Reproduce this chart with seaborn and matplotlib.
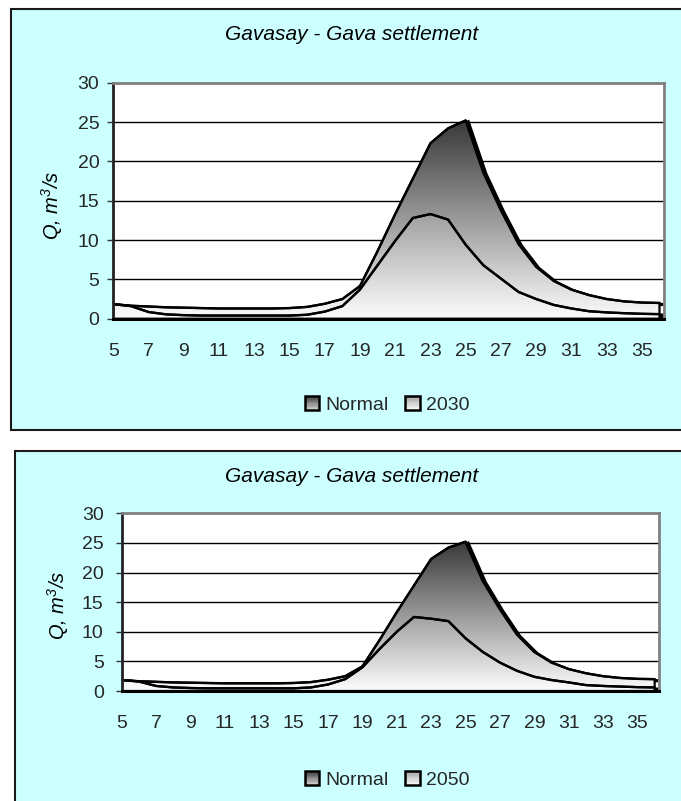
import numpy as np
import pandas as pd
import matplotlib
matplotlib.use("Agg")
import matplotlib.pyplot as plt
import matplotlib.transforms as mtransforms
import seaborn as sns
from matplotlib.patches import Rectangle
from matplotlib.legend_handler import HandlerBase
from matplotlib.colors import LinearSegmentedColormap, to_rgb

# ---- data -------------------------------------------------------------
periods = [5, 6, 7, 8, 9, 10, 11, 12, 13, 14, 15, 16, 17, 18, 19, 20,
           21, 22, 23, 24, 25, 26, 27, 28, 29, 30, 31, 32, 33, 34, 35, 36]

flow_normal = [1.85, 1.65, 1.55, 1.45, 1.4, 1.35, 1.3, 1.3, 1.3, 1.3, 1.35, 1.5,
               1.9, 2.5, 4.15, 8.6, 13.3, 17.8, 22.3, 24.2, 25.2, 18.6,
               13.8, 9.5, 6.6, 4.8, 3.7, 3.0, 2.5, 2.2, 2.05, 2.0]

flow_2030 = [1.85, 1.6, 0.85, 0.55, 0.45, 0.4, 0.4, 0.4, 0.4, 0.4, 0.4, 0.5,
             0.9, 1.6, 3.7, 6.8, 9.9, 12.8, 13.3, 12.6, 9.4, 6.8,
             5.1, 3.4, 2.5, 1.75, 1.3, 0.95, 0.8, 0.7, 0.62, 0.58]

flow_2050 = [1.85, 1.6, 0.85, 0.6, 0.5, 0.45, 0.45, 0.45, 0.45, 0.45, 0.45, 0.6,
             1.1, 2.0, 4.0, 7.1, 10.0, 12.5, 12.2, 11.8, 8.9, 6.6,
             4.8, 3.4, 2.4, 1.85, 1.45, 1.0, 0.85, 0.75, 0.65, 0.6]

y_ticks = [0, 5, 10, 15, 20, 25, 30]
x_ticklabels = [str(p) if p % 2 == 1 else "" for p in periods]

title_text = "Gavasay - Gava settlement"
ylabel_text = r"Q, m$^{3}$/s"

# ---- style ------------------------------------------------------------
sns.set_style("white")
plt.rcParams["font.family"] = ["Liberation Sans", "DejaVu Sans"]
plt.rcParams["mathtext.fontset"] = "custom"
plt.rcParams["mathtext.rm"] = "Liberation Sans:italic"
plt.rcParams["mathtext.it"] = "Liberation Sans:italic"

W, H = 681, 801
fig = plt.figure(figsize=(W / 100, H / 100), dpi=100)
fig.patch.set_facecolor("white")


def fx(px):
    return px / W


def fy(py):
    return 1 - py / H


NORMAL_TOP = "#383838"
FUTURE_TOP = "#a0a0a0"
TICK_FS = 14
TEXT_FS = 14


class GradientSwatch(HandlerBase):
    """Legend key drawn as a small square with a vertical grey gradient."""

    def __init__(self, top, bottom):
        super().__init__()
        self.top = np.array(to_rgb(top))
        self.bottom = np.array(to_rgb(bottom))

    def create_artists(self, legend, orig_handle, xdescent, ydescent,
                       width, height, fontsize, trans):
        side = min(width, height)
        x0 = -xdescent + (width - side) / 2
        y0 = -ydescent + (height - side) / 2
        n = 12
        arts = []
        for i in range(n):
            t = (i + 0.5) / n
            c = self.bottom + (self.top - self.bottom) * t
            arts.append(Rectangle((x0, y0 + side * i / n), side, side / n,
                                  facecolor=c, edgecolor="none",
                                  transform=trans))
        arts.append(Rectangle((x0, y0), side, side, facecolor="none",
                              edgecolor="black", lw=1.8, transform=trans))
        return arts


def gradient_area(ax, x, y, top_color, zorder):
    poly = ax.fill_between(x, 0, y, facecolor="none", edgecolor="black",
                           lw=1.6, zorder=zorder + 0.2)
    cmap = LinearSegmentedColormap.from_list("grad", ["#fdfdfd", top_color])
    grad = np.linspace(0, 1, 256).reshape(-1, 1)
    im = ax.imshow(grad, extent=[x[0], x[-1], 0, max(y)], origin="lower",
                   aspect="auto", cmap=cmap, zorder=zorder,
                   interpolation="bilinear")
    im.set_clip_path(poly.get_paths()[0], transform=ax.transData)
    return poly


panels = [
    dict(box=(11, 9.3, 700, 429.5), axes=(113.3, 82.7, 664.0, 318.7),
         xmax=36.255, title_y=35, legend_y=405, ylabel_xy=(52, 205),
         ypad=6.0, series="2030", values=flow_2030),
    dict(box=(15, 450.7, 700, 830), axes=(121.7, 513.3, 659.3, 691.0),
         xmax=36.27, title_y=476, legend_y=780, ylabel_xy=(58, 605),
         ypad=9.0, series="2050", values=flow_2050),
]

for p in panels:
    bx0, by0, bx1, by1 = p["box"]
    fig.add_artist(Rectangle((fx(bx0), fy(by1)), fx(bx1) - fx(bx0),
                             fy(by0) - fy(by1), transform=fig.transFigure,
                             facecolor="#CCFFFF", edgecolor="#1a1a1a",
                             lw=1.5, zorder=0))

    l, t, r, b = p["axes"]
    ax = fig.add_axes([fx(l), fy(b), fx(r) - fx(l), fy(t) - fy(b)])
    ax.set_facecolor("white")

    x = np.array(periods, dtype=float)
    yn = np.array(flow_normal)
    yf = np.array(p["values"])

    # drop shadow behind the "Normal" area
    shadow = mtransforms.offset_copy(ax.transData, fig=fig, x=2.5, y=-1.5,
                                     units="dots")
    ax.plot(x, yn, color="black", lw=2.4, transform=shadow, zorder=1.5,
            solid_joinstyle="miter")
    ax.vlines(x[-1], 0, yf[-1] * 1.6, color="black", lw=3.5,
              transform=shadow, zorder=3.6)

    gradient_area(ax, x, yn, NORMAL_TOP, zorder=2)
    gradient_area(ax, x, yf, FUTURE_TOP, zorder=3)

    df = pd.DataFrame({
        "period": np.concatenate([x, x]),
        "Q": np.concatenate([yn, yf]),
        "series": ["Normal"] * len(x) + [p["series"]] * len(x),
    })
    sns.lineplot(data=df, x="period", y="Q", hue="series",
                 palette=["black", "black"], lw=1.7, legend=False, ax=ax,
                 zorder=4)

    ax.set_xlim(periods[0], p["xmax"])
    ax.set_ylim(y_ticks[0], y_ticks[-1])
    ax.set_xlabel("")
    ax.set_ylabel("")

    ax.set_yticks(y_ticks)
    ax.set_yticklabels([str(v) for v in y_ticks])
    ax.set_xticks(periods)
    ax.set_xticklabels(x_ticklabels)
    ax.tick_params(axis="x", direction="out", length=6, width=1,
                   color="black", labelsize=TICK_FS, pad=11.5)
    ax.tick_params(axis="y", direction="out", length=4, width=1,
                   color="#333333", labelsize=TICK_FS, pad=p["ypad"],
                   left=True)

    ax.grid(False)
    for v in y_ticks[1:-1]:
        ax.axhline(v, color="black", lw=1.0, zorder=0.5)

    ax.spines["top"].set_color("#808080")
    ax.spines["right"].set_color("#808080")
    ax.spines["top"].set_linewidth(2.0)
    ax.spines["right"].set_linewidth(2.0)
    ax.spines["left"].set_color("#222222")
    ax.spines["left"].set_linewidth(2.0)
    ax.spines["bottom"].set_color("black")
    ax.spines["bottom"].set_linewidth(2.2)
    for s in ax.spines.values():
        s.set_zorder(5)
        s.set_visible(True)

    fig.text(fx(352), fy(p["title_y"]), title_text, ha="center",
             va="center", fontsize=15, fontstyle="italic", color="black")
    fig.text(fx(p["ylabel_xy"][0]), fy(p["ylabel_xy"][1]), ylabel_text,
             ha="center", va="center", rotation=90, fontsize=14.5,
             fontstyle="italic", color="black")

    h_norm = Rectangle((0, 0), 1, 1)
    h_fut = Rectangle((0, 0), 1, 1)
    fig.legend([h_norm, h_fut], ["Normal", p["series"]],
               handler_map={h_norm: GradientSwatch("#383838", "#dcdcdc"),
                            h_fut: GradientSwatch("#a0a0a0", "#ffffff")},
               loc="center", bbox_to_anchor=(fx(387), fy(p["legend_y"])),
               ncol=2, frameon=False, fontsize=TEXT_FS, handlelength=0.75,
               handleheight=0.75, handletextpad=0.3, columnspacing=0.85,
               borderaxespad=0)

fig.savefig("out.png", dpi=100, facecolor="white")
